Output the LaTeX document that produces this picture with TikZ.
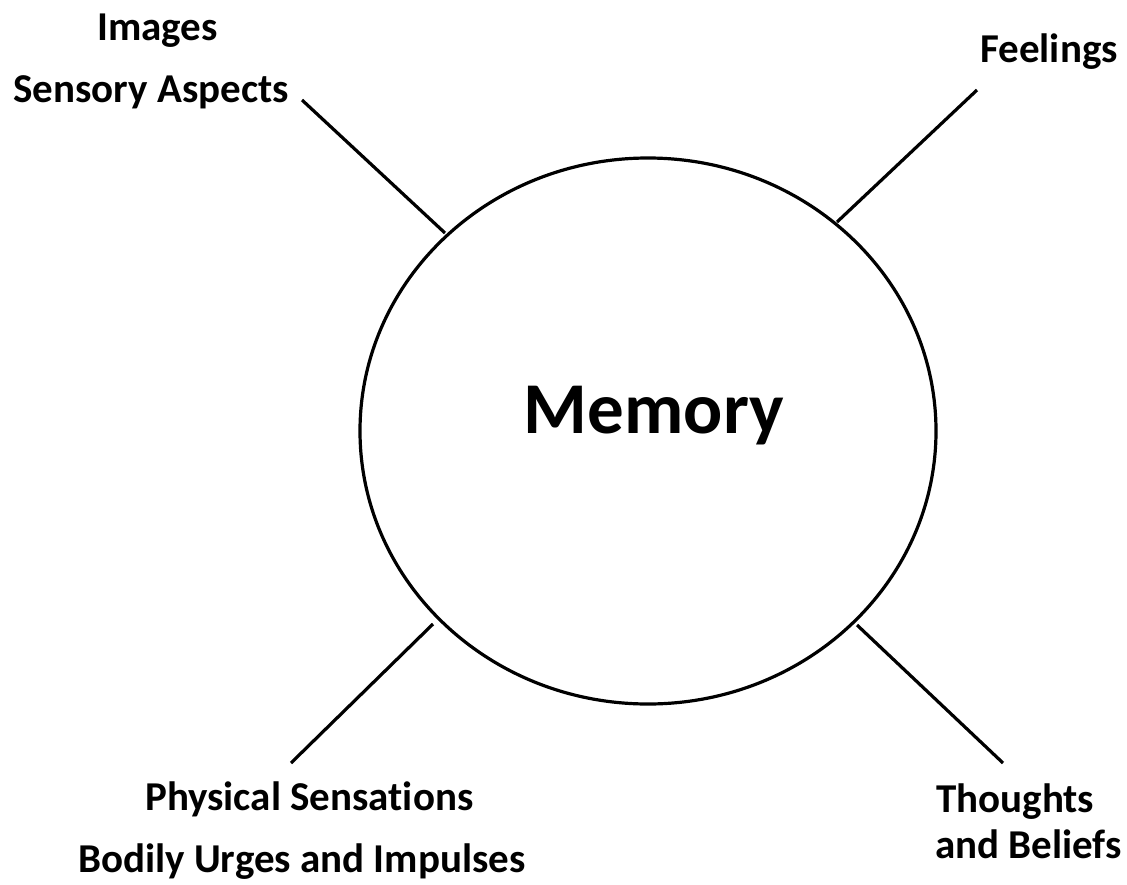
\documentclass[tikz,border=0pt]{standalone}
\usepackage{fontspec}
\setmainfont{Carlito}[Ligatures={NoCommon}]
\usetikzlibrary{shapes.geometric}
\begin{document}
\begin{tikzpicture}[x=1pt,y=-1pt,
  lbl/.style={font=\fontsize{41}{46}\selectfont\bfseries, inner sep=0pt},
  conn/.style={line width=3.2pt},
  memcircle/.style={ellipse, draw, line width=3.2pt, minimum width=576pt, minimum height=546pt, inner sep=0pt}]
\useasboundingbox (0,0) rectangle (1127,884);
\node[memcircle] (mem) at (648,431) {};
\node[font=\fontsize{73}{80}\selectfont\bfseries, anchor=base, inner sep=0pt] (memt) at (654,433) {Memory};
\node[lbl, anchor=base west] (images) at (97,40) {Images};
\node[lbl, anchor=base east] (sensory) at (289,102) {Sensory Aspects};
\node[lbl, anchor=base east] (feelings) at (1118,62) {Feelings};
\node[lbl, anchor=base west] (physical) at (145,810) {Physical Sensations};
\node[lbl, anchor=base west] (bodily) at (78,872) {Bodily Urges and Impulses};
\node[lbl, anchor=base west] (thoughts) at (936,812) {Thoughts};
\node[lbl, anchor=base west] (beliefs) at (935,858) {and Beliefs};
\coordinate (c1a) at (302,100);
\coordinate (c1b) at (445,233);
\coordinate (c2a) at (977,90);
\coordinate (c2b) at (837,222);
\coordinate (c3a) at (433,624);
\coordinate (c3b) at (291,763);
\coordinate (c4a) at (857,625);
\coordinate (c4b) at (1003,763);
\draw[conn] (c1a) -- (c1b);
\draw[conn] (c2a) -- (c2b);
\draw[conn] (c3a) -- (c3b);
\draw[conn] (c4a) -- (c4b);
\end{tikzpicture}
\end{document}
